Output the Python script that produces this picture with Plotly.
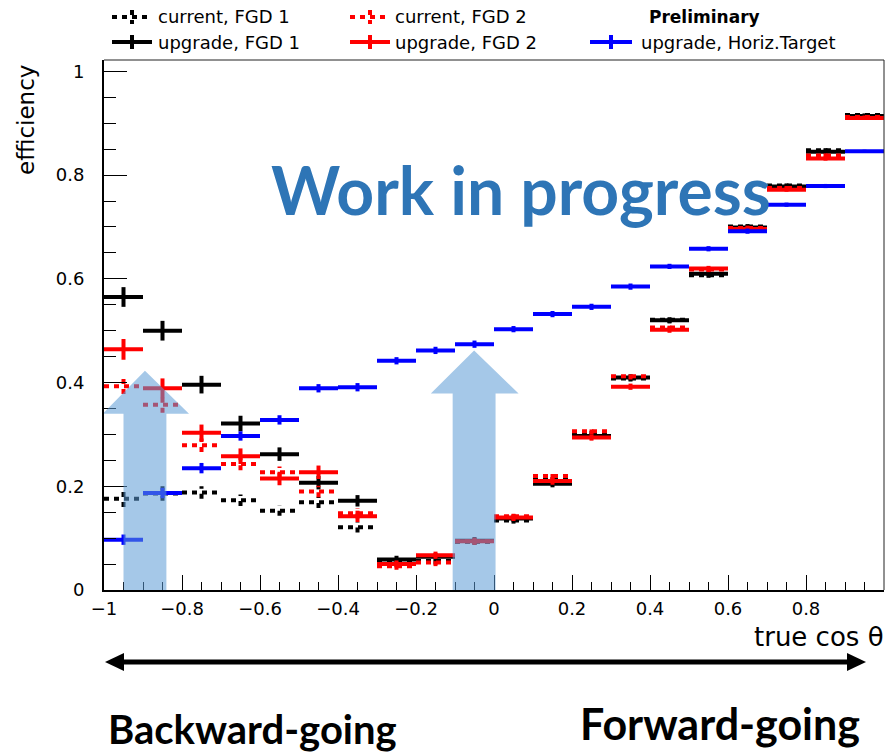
import plotly.graph_objects as go

# ---- binning: 20 bins in true cos(theta) ----
bin_edges = [-1.0, -0.9, -0.8, -0.7, -0.6, -0.5, -0.4, -0.3, -0.2, -0.1, 0.0,
             0.1, 0.2, 0.3, 0.4, 0.5, 0.6, 0.7, 0.8, 0.9, 1.0]

# ---- efficiencies per bin ----
cur_fgd1 = [0.176, 0.186, 0.188, 0.173, 0.153, 0.169, 0.121, 0.052, 0.056, 0.093,
            0.134, 0.214, 0.303, 0.408, 0.521, 0.607, 0.701, 0.780, 0.848, 0.916]
cur_fgd2 = [0.393, 0.357, 0.279, 0.243, 0.227, 0.190, 0.148, 0.046, 0.053, 0.094,
            0.142, 0.220, 0.306, 0.412, 0.506, 0.618, 0.698, 0.775, 0.838, 0.912]
upg_fgd1 = [0.565, 0.500, 0.396, 0.321, 0.262, 0.207, 0.172, 0.059, 0.064, 0.095,
            0.138, 0.205, 0.297, 0.410, 0.520, 0.610, 0.699, 0.778, 0.845, 0.914]
upg_fgd2 = [0.464, 0.389, 0.303, 0.258, 0.215, 0.227, 0.142, 0.050, 0.067, 0.094,
            0.140, 0.210, 0.294, 0.392, 0.502, 0.620, 0.696, 0.772, 0.832, 0.910]
upg_htgt = [0.097, 0.187, 0.235, 0.297, 0.328, 0.389, 0.391, 0.442, 0.462, 0.474,
            0.503, 0.532, 0.546, 0.585, 0.624, 0.658, 0.692, 0.743, 0.779, 0.846]

# ---- statistical uncertainties (half-widths) ----
cur_fgd1_err = [0.016, 0.014, 0.012, 0.011, 0.010, 0.011, 0.010, 0.007, 0.007, 0.006,
                0.006, 0.006, 0.006, 0.006, 0.006, 0.005, 0.005, 0.004, 0.004, 0.003]
cur_fgd2_err = [0.015, 0.015, 0.013, 0.012, 0.011, 0.011, 0.010, 0.007, 0.007, 0.006,
                0.006, 0.006, 0.006, 0.006, 0.006, 0.005, 0.005, 0.004, 0.004, 0.003]
upg_fgd1_err = [0.019, 0.019, 0.017, 0.015, 0.013, 0.013, 0.011, 0.007, 0.007, 0.007,
                0.007, 0.007, 0.006, 0.006, 0.006, 0.005, 0.005, 0.004, 0.004, 0.003]
upg_fgd2_err = [0.020, 0.019, 0.016, 0.015, 0.013, 0.013, 0.011, 0.007, 0.007, 0.007,
                0.007, 0.007, 0.006, 0.006, 0.006, 0.005, 0.005, 0.004, 0.004, 0.003]
upg_htgt_err = [0.010, 0.010, 0.010, 0.009, 0.009, 0.008, 0.008, 0.007, 0.007, 0.007,
                0.006, 0.006, 0.006, 0.006, 0.005, 0.005, 0.005, 0.004, 0.004, 0.003]

series_labels = ["current, FGD 1", "upgrade, FGD 1", "current, FGD 2",
                 "upgrade, FGD 2", "upgrade, Horiz.Target"]
series_values = [cur_fgd1, upg_fgd1, cur_fgd2, upg_fgd2, upg_htgt]
series_errors = [cur_fgd1_err, upg_fgd1_err, cur_fgd2_err, upg_fgd2_err, upg_htgt_err]

DOT = "5px,5px"
series_styles = [
    dict(color="black", dash=DOT),
    dict(color="black", dash="solid"),
    dict(color="red", dash=DOT),
    dict(color="red", dash="solid"),
    dict(color="blue", dash="solid"),
]
LINE_W = 4

FONT = "DejaVu Sans"


def hist_segments(vals, errs):
    """Horizontal bin-width segment plus a vertical error bar per bin."""
    xs, ys = [], []
    for lo, hi, v, e in zip(bin_edges[:-1], bin_edges[1:], vals, errs):
        c = (lo + hi) / 2
        xs += [lo, hi, None, c, c, None]
        ys += [v, v, None, v - e, v + e, None]
    return xs, ys


fig = go.Figure()
for label, vals, errs, st in zip(series_labels, series_values, series_errors, series_styles):
    xs, ys = hist_segments(vals, errs)
    fig.add_trace(go.Scatter(
        x=xs, y=ys, mode="lines", name=label, showlegend=False,
        line=dict(color=st["color"], width=LINE_W, dash=st["dash"]),
        hoverinfo="skip",
    ))

# ---- pixel helpers for decorations outside the frame ----
PL, PR, PT, PB = 104, 884, 60, 590


def px(x):
    return (x - PL) / (PR - PL)


def py(y):
    return (PB - y) / (PB - PT)


shapes = []
annotations = []

# frame: thin top and right edges
shapes.append(dict(type="line", xref="paper", yref="paper", x0=0, x1=1, y0=1, y1=1,
                   line=dict(color="#222", width=1)))
shapes.append(dict(type="line", xref="paper", yref="paper", x0=1, x1=1, y0=0, y1=1,
                   line=dict(color="#222", width=1)))

# translucent "improvement" arrows
ARROW_FILL = "rgba(91,155,213,0.55)"


def up_arrow(x0, x1, hl, hr, yb, ytip):
    xt = (x0 + x1) / 2
    path = (f"M {x0},0 L {x0},{yb} L {hl},{yb} L {xt},{ytip} L {hr},{yb} "
            f"L {x1},{yb} L {x1},0 Z")
    return dict(type="path", xref="x", yref="y", path=path, fillcolor=ARROW_FILL,
                line=dict(width=0), layer="above")


shapes.append(up_arrow(-0.950, -0.840, -1.003, -0.782, 0.340, 0.423))
shapes.append(up_arrow(-0.106, 0.004, -0.162, 0.063, 0.379, 0.462))

# legend (two rows, three columns)
legend_rows = [17, 42]
legend_cols = [(112, 152, 156), (350, 390, 393), (590, 632, 639)]
legend_slots = [(0, 0), (1, 0), (0, 1), (1, 1), (1, 2)]
for (row, col), label, st in zip(legend_slots, series_labels, series_styles):
    yy = legend_rows[row]
    sx0, sx1, tx = legend_cols[col]
    ln = dict(color=st["color"], width=LINE_W, dash=st["dash"])
    shapes.append(dict(type="line", xref="paper", yref="paper",
                       x0=px(sx0), x1=px(sx1), y0=py(yy), y1=py(yy), line=ln))
    cx = (sx0 + sx1) / 2
    shapes.append(dict(type="line", xref="paper", yref="paper",
                       x0=px(cx), x1=px(cx), y0=py(yy - 7), y1=py(yy + 7), line=ln))
    annotations.append(dict(text=label, xref="paper", yref="paper", x=px(tx), y=py(yy),
                            xanchor="left", yanchor="middle", showarrow=False,
                            font=dict(family=FONT, size=18, color="black")))
annotations.append(dict(text="<b>Preliminary</b>", xref="paper", yref="paper",
                        x=px(647), y=py(legend_rows[0]), xanchor="left", yanchor="middle",
                        showarrow=False, font=dict(family=FONT, size=17, color="black")))

# axis titles
annotations.append(dict(text="efficiency", xref="paper", yref="paper", x=px(26), y=py(120),
                        xanchor="center", yanchor="middle", textangle=-90, showarrow=False,
                        font=dict(family=FONT, size=23, color="black")))
annotations.append(dict(text="true cos θ", xref="paper", yref="paper", x=px(886), y=py(637),
                        xanchor="right", yanchor="middle", showarrow=False,
                        font=dict(family=FONT, size=26, color="black")))

# overlay text
annotations.append(dict(text="<b>Work in progress</b>", xref="paper", yref="paper",
                        x=px(521), y=py(190), xanchor="center", yanchor="middle",
                        showarrow=False, font=dict(family="Lato", size=66, color="rgb(46,117,182)")))

# direction arrow and labels below the axis
AY = 662
shapes.append(dict(type="line", xref="paper", yref="paper", x0=px(120), x1=px(851),
                   y0=py(AY), y1=py(AY), line=dict(color="black", width=5)))
shapes.append(dict(type="path", xref="paper", yref="paper",
                   path=f"M {px(105)},{py(AY)} L {px(124)},{py(AY - 9)} L {px(124)},{py(AY + 9)} Z",
                   fillcolor="black", line=dict(width=0)))
shapes.append(dict(type="path", xref="paper", yref="paper",
                   path=f"M {px(866)},{py(AY)} L {px(847)},{py(AY - 9)} L {px(847)},{py(AY + 9)} Z",
                   fillcolor="black", line=dict(width=0)))
annotations.append(dict(text="<b>Backward-going</b>", xref="paper", yref="paper",
                        x=px(252), y=py(729), xanchor="center", yanchor="middle",
                        showarrow=False, font=dict(family="Lato", size=40, color="black")))
annotations.append(dict(text="<b>Forward-going</b>", xref="paper", yref="paper",
                        x=px(720), y=py(723), xanchor="center", yanchor="middle",
                        showarrow=False, font=dict(family="Lato", size=43, color="black")))

fig.update_layout(
    width=885, height=754,
    margin=dict(l=PL, r=885 - PR, t=PT, b=754 - PB, pad=0),
    paper_bgcolor="white", plot_bgcolor="white",
    showlegend=False,
    shapes=shapes, annotations=annotations,
    xaxis=dict(
        range=[-1, 1], showgrid=False, zeroline=False,
        showline=True, linecolor="black", linewidth=2,
        tick0=-1, dtick=0.2, ticks="inside", ticklen=15, tickwidth=1, tickcolor="black",
        minor=dict(ticks="inside", ticklen=8, dtick=0.05, tick0=-1, tickwidth=1,
                   tickcolor="black", showgrid=False),
        tickfont=dict(family=FONT, size=18, color="black"),
        ticklabelstandoff=1,
    ),
    yaxis=dict(
        range=[0, 1.022], showgrid=False, zeroline=False,
        showline=True, linecolor="black", linewidth=2,
        tick0=0, dtick=0.2, ticks="inside", ticklen=23, tickwidth=1, tickcolor="black",
        minor=dict(ticks="inside", ticklen=12, dtick=0.05, tick0=0, tickwidth=1,
                   tickcolor="black", showgrid=False),
        tickfont=dict(family=FONT, size=18, color="black"),
        ticklabelstandoff=14,
    ),
)

fig.write_html("out.html")
